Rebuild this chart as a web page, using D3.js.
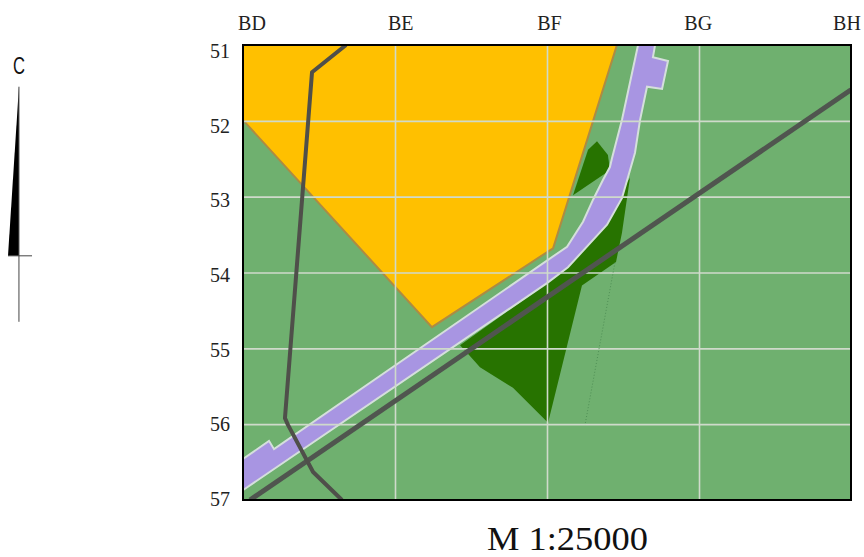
<!DOCTYPE html>
<html>
<head>
<meta charset="utf-8">
<script src="https://cdn.jsdelivr.net/npm/d3@7"></script>
<style>
body { margin: 0; background: #fff; }
svg { display: block; }
</style>
</head>
<body>
<script>
// grid labels
const columns = ["BD", "BE", "BF", "BG", "BH"];
const rows = [51, 52, 53, 54, 55, 56, 57];

// map shapes, [column position, row]
const builtArea = [[0, 51], [2.46, 51], [2.04, 53.68], [1.243, 54.72], [0, 51.99]];
const woodNorth = [[2.171, 52.98], [2.27, 52.38], [2.329, 52.27], [2.401, 52.45], [2.414, 52.65]];
const woodSouth = [[2.546, 52.75], [2.493, 53.48], [2.454, 53.86], [2.23, 54.17], [2.007, 55.98],
    [1.776, 55.52], [1.559, 55.25], [1.493, 55.1], [1.428, 54.96], [2, 54.14], [2.349, 53.37]];
const river = [[2.599, 51], [2.493, 51.99], [2.428, 52.49], [2.414, 52.61], [2.368, 52.78], [2.303, 53.04],
    [2.237, 53.33], [2.132, 53.66],
    [0.204, 56.33], [0.171, 56.22], [0, 56.46], [0, 56.87], [2, 54.14], [2.138, 53.93], [2.395, 53.37],
    [2.493, 53.02], [2.579, 52.42], [2.612, 51.99], [2.658, 51.55], [2.757, 51.58], [2.796, 51.21],
    [2.697, 51.16], [2.711, 51]];
const highway = [[0.046, 57], [4, 51.59]];
const track = [[0.678, 51], [0.454, 51.36], [0.276, 55.92], [0.296, 56.01], [0.461, 56.63], [0.651, 57]];
const footpath = [[2.447, 53.87], [2.25, 56.01]];

// north needle, same coordinates as the map
const needleBlade = [[-1.474, 51.55], [-1.546, 53.78], [-1.474, 53.78]];
const needleStem = [[-1.474, 51.55], [-1.474, 54.65]];
const needleBar = [[-1.546, 53.78], [-1.388, 53.78]];

const margin = { top: 45, right: 13, bottom: 57, left: 243 };
const width = 864 - margin.left - margin.right,
    height = 557 - margin.top - margin.bottom;

const svg = d3.select("body").append("svg")
    .attr("width", 864)
    .attr("height", 557);

const g = svg.append("g")
    .attr("transform", "translate(" + margin.left + "," + margin.top + ")");

// scales
const x = d3.scaleLinear().domain([0, 4]).range([0, width]);
const y = d3.scaleLinear().domain([51, 57]).range([0, height]);
const line = d3.line().x(d => x(d[0])).y(d => y(d[1]));

// the labels sit a bit tighter than the grid itself
const xLabel = d3.scalePoint().domain(columns).range([8.5, 603.5]);
const yLabel = d3.scalePoint().domain(rows).range([6, 454]);

g.append("clipPath").attr("id", "map")
    .append("rect").attr("width", width).attr("height", height);

const map = g.append("g").attr("clip-path", "url(#map)");

map.append("rect").attr("width", width).attr("height", height).attr("fill", "#6fb06f");

map.append("path").attr("d", line(builtArea) + "Z")
    .attr("fill", "#ffc000").attr("stroke", "#ae8b42").attr("stroke-width", 2);

[woodNorth, woodSouth].forEach(w => {
    map.append("path").attr("d", line(w) + "Z").attr("fill", "#277300");
});

map.append("path").attr("d", line(river) + "Z")
    .attr("fill", "#a895e2").attr("stroke", "#d5dfdc").attr("stroke-width", 2);

// grid
map.append("g")
    .call(d3.axisBottom(x).tickValues(d3.range(1, 4)).tickSize(height).tickFormat(""))
    .call(a => a.select(".domain").remove())
    .selectAll("line").attr("stroke", "#cfdacb").attr("stroke-width", 1.6);

map.append("g")
    .call(d3.axisRight(y).tickValues(rows.slice(1, -1)).tickSize(width).tickFormat(""))
    .call(a => a.select(".domain").remove())
    .selectAll("line").attr("stroke", "#cfdacb").attr("stroke-width", 1.6);

map.append("path").attr("d", line(footpath))
    .attr("fill", "none").attr("stroke", "#4f8f55").attr("stroke-width", 1).attr("stroke-dasharray", "1,2");

map.append("path").attr("d", line(highway))
    .attr("fill", "none").attr("stroke", "#50554f").attr("stroke-width", 5);

map.append("path").attr("d", line(track))
    .attr("fill", "none").attr("stroke", "#4f4f4a").attr("stroke-width", 4).attr("stroke-linejoin", "round");

g.append("rect").attr("width", width).attr("height", height)
    .attr("fill", "none").attr("stroke", "#000").attr("stroke-width", 2);

// labels
const xAxis = g.append("g")
    .attr("transform", "translate(0,-15)")
    .call(d3.axisTop(xLabel).tickSize(0).tickPadding(0));
xAxis.select(".domain").remove();

const yAxis = g.append("g")
    .attr("transform", "translate(-13,0)")
    .call(d3.axisLeft(yLabel).tickSize(0).tickPadding(0));
yAxis.select(".domain").remove();

g.selectAll(".tick text")
    .style("font-family", "'Liberation Serif'")
    .style("font-size", "20px")
    .attr("fill", "#222");

svg.append("text")
    .text("M 1:25000")
    .attr("x", 487)
    .attr("y", 549.5)
    .attr("textLength", 161)
    .attr("lengthAdjust", "spacingAndGlyphs")
    .style("font-family", "'Liberation Serif'")
    .style("font-size", "34px")
    .attr("fill", "#111");

// needle
g.append("path").attr("d", line(needleBlade) + "Z").attr("fill", "#000");
g.append("path").attr("d", line(needleStem)).attr("stroke", "#444").attr("stroke-width", 1).attr("fill", "none");
g.append("path").attr("d", line(needleBar)).attr("stroke", "#444").attr("stroke-width", 1).attr("fill", "none");

svg.append("text")
    .text("C")
    .attr("x", 13)
    .attr("y", 74)
    .attr("textLength", 12)
    .attr("lengthAdjust", "spacingAndGlyphs")
    .style("font-family", "'Liberation Sans'")
    .style("font-size", "24px")
    .attr("fill", "#111");
</script>
</body>
</html>
